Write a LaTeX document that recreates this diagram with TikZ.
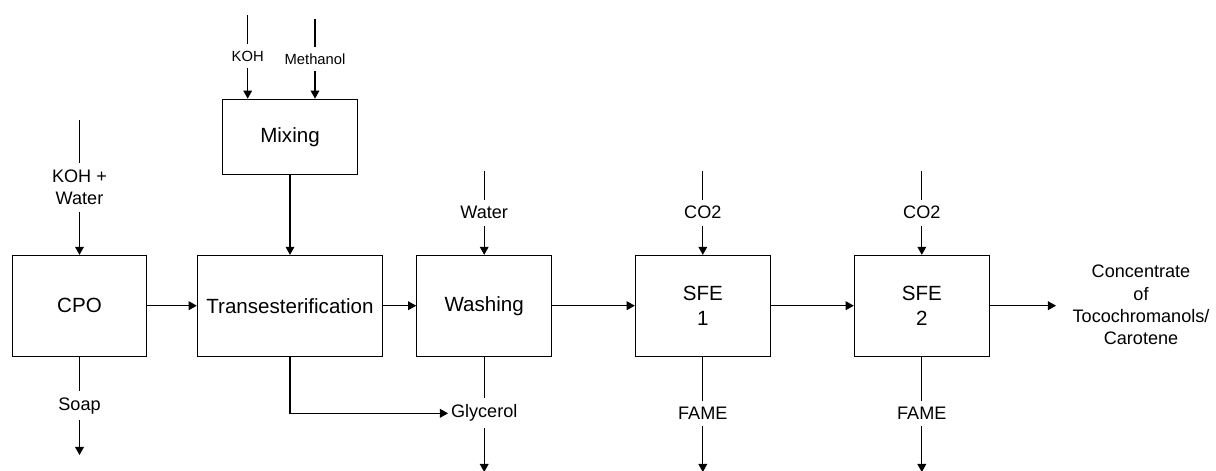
\documentclass[tikz,border=0pt]{standalone}
\usepackage{fontspec}
\setmainfont{Liberation Sans}
\usetikzlibrary{arrows.meta,positioning}
\tikzset{
  unit/.style={draw,line width=0.6pt,minimum width=2.7cm,minimum height=2.014cm,
    align=center,inner sep=0pt,font=\fontsize{11.7}{14.2}\selectfont},
  tag/.style={align=center,inner xsep=1.5pt,inner ysep=3.5pt,
    font=\fontsize{10.3}{12.7}\selectfont},
  smalltag/.style={tag,font=\fontsize{8.4}{10}\selectfont},
  pipe/.style={line width=0.6pt},
  feed/.style={pipe,-{Triangle[length=4.6pt,width=5pt]}},
}
\begin{document}
\begin{tikzpicture}[x=0.02cm,y=-0.02cm]
  \clip (0,0) rectangle (1216,470);
  % process units
  \node[unit,minimum width=2.688cm] (cpo) at (79.5,305.7) {CPO};
  \node[unit,minimum width=3.708cm] (trans) at (290,305.7) {Transesterification};
  \node[unit,minimum width=2.692cm,minimum height=1.514cm] (mix) at (290,137) {Mixing};
  \node[unit] (wash) at (484.2,305.7) {Washing};
  \node[unit] (sfe1) at (702.8,305.7) {SFE\\1};
  \node[unit] (sfe2) at (921.8,305.7) {SFE\\2};
  % stream labels
  \node[tag] (kohw) at (79.5,187.5) {KOH +\\Water};
  \node[tag] (soap) at (79.5,405.7) {Soap};
  \node[smalltag] (koh) at (247.7,56) {KOH};
  \node[smalltag] (meth) at (315,59) {Methanol};
  \node[tag] (water) at (484.2,212.7) {Water};
  \node[tag] (glyc) at (484.2,413.3) {Glycerol};
  \node[tag] (co2a) at (702.8,212.7) {CO2};
  \node[tag] (co2b) at (921.8,212.7) {CO2};
  \node[tag] (fame1) at (702.8,413.3) {FAME};
  \node[tag] (fame2) at (921.8,413.3) {FAME};
  \node[tag] (conc) at (1141,305.2) {Concentrate\\of\\Tocochromanols/\\Carotene};
  % free ends
  \coordinate (kohwin) at (79.5,120);
  \coordinate (kohin) at (247.7,15);
  \coordinate (methin) at (315,19);
  \coordinate (waterin) at (484.2,170.7);
  \coordinate (co2ain) at (702.8,170.7);
  \coordinate (co2bin) at (921.8,170.7);
  \coordinate (soapout) at (79.5,455);
  \coordinate (glycout) at (484.2,472);
  \coordinate (fame1out) at (702.8,472);
  \coordinate (fame2out) at (921.8,472);
  \coordinate (concout) at (1056,305.7);
  % feeds
  \draw[pipe] (kohwin) -- (kohw.north);
  \draw[feed] (kohw.south) -- (cpo.north);
  \draw[pipe] (kohin) -- (koh.north);
  \draw[feed] (koh.south) -- (koh.south |- mix.north);
  \draw[pipe] (methin) -- (meth.north);
  \draw[feed] (meth.south) -- (meth.south |- mix.north);
  \draw[feed] (mix.south) -- (trans.north);
  \foreach \lab/\u in {water/wash, co2a/sfe1, co2b/sfe2} {
    \draw[pipe] (\lab in) -- (\lab.north);
    \draw[feed] (\lab.south) -- (\u.north);
  }
  % main line
  \draw[feed] (cpo) -- (trans);
  \draw[feed] (trans) -- (wash);
  \draw[feed] (wash) -- (sfe1);
  \draw[feed] (sfe1) -- (sfe2);
  \draw[feed] (sfe2) -- (concout);
  % products
  \draw[pipe] (cpo.south) -- (soap.north);
  \draw[feed] (soap.south) -- (soapout);
  \draw[feed] (trans.south) -- (trans.south |- glyc.west) -- (glyc.west);
  \foreach \lab/\u in {glyc/wash, fame1/sfe1, fame2/sfe2} {
    \draw[pipe] (\u.south) -- (\lab.north);
    \draw[feed] (\lab.south) -- (\lab out);
  }
\end{tikzpicture}
\end{document}
